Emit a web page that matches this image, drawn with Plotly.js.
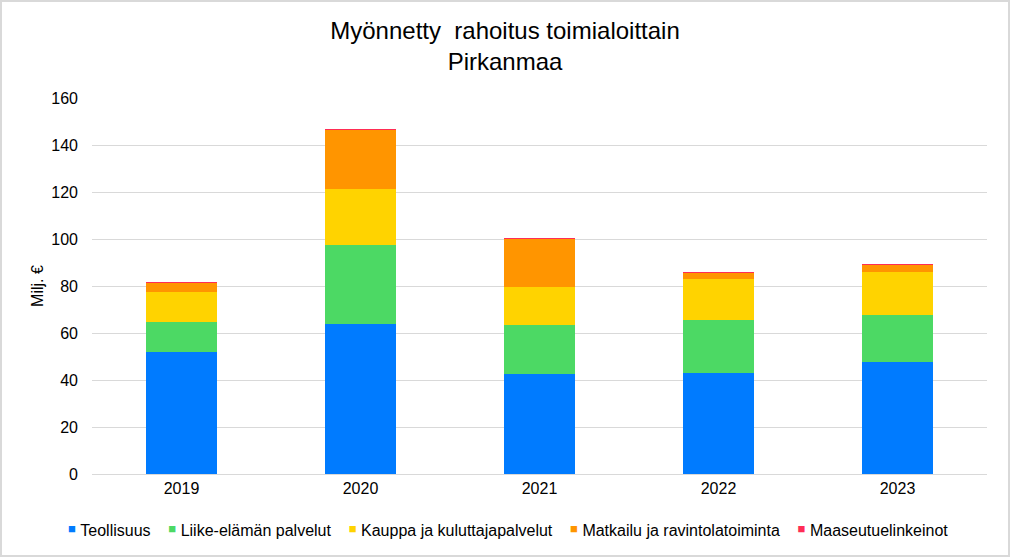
<!DOCTYPE html>
<html>
<head>
<meta charset="utf-8">
<script src="https://cdn.plot.ly/plotly-3.0.1.min.js"></script>
<style>
html,body{margin:0;padding:0;background:#fff;}
#wrap{position:relative;width:1010px;height:557px;}
#chart{width:1010px;height:557px;}
#frame{position:absolute;left:0;top:0;width:1010px;height:557px;box-sizing:border-box;border:2px solid #d9d9d9;pointer-events:none;}
</style>
</head>
<body>
<div id="wrap"><div id="chart"></div><div id="frame"></div></div>
<script>
var years = ["2019", "2020", "2021", "2022", "2023"];
var seriesNames = ["Teollisuus", "Liike-elämän palvelut", "Kauppa ja kuluttajapalvelut", "Matkailu ja ravintolatoiminta", "Maaseutuelinkeinot"];
var teollisuus = [51.9, 63.8, 42.6, 43.0, 47.7];
var liike = [12.8, 33.6, 20.9, 22.5, 20.0];
var kauppa = [12.9, 23.7, 16.2, 17.3, 18.3];
var matkailu = [3.5, 25.1, 20.3, 2.6, 2.8];
var maaseutu = [0.4, 0.5, 0.5, 0.6, 0.6];
var colors = ["#007BFF", "#4CD964", "#FFD300", "#FF9500", "#FF2D55"];
var yTicks = [0, 20, 40, 60, 80, 100, 120, 140, 160];

var FONT = "Liberation Sans, Arial, sans-serif";
var allValues = [teollisuus, liike, kauppa, matkailu, maaseutu];
var traces = allValues.map(function (vals, i) {
  return {
    type: "bar",
    name: seriesNames[i],
    x: years,
    y: vals,
    marker: {color: colors[i], line: {width: 0}},
    hoverinfo: "name+y",
    showlegend: false
  };
});

// legend drawn as one text line: coloured square + series name
var NB = "\u00a0";
var legendText = seriesNames.map(function (n, i) {
  return "<span style='color:" + colors[i] + ";font-size:13px;baseline-shift:3px'>\u25A0</span>" + NB + n;
}).join(NB + NB + NB + NB);

var layout = {
  width: 1010,
  height: 557,
  barmode: "stack",
  bargap: 0.6,
  paper_bgcolor: "#ffffff",
  plot_bgcolor: "#ffffff",
  font: {family: FONT, size: 16, color: "#000"},
  margin: {l: 92, r: 23, t: 98, b: 83},
  title: {
    text: "Myönnetty" + NB + NB + "rahoitus toimialoittain<br>Pirkanmaa",
    font: {family: FONT, size: 24, color: "#000"},
    x: 0.5, xanchor: "center",
    yref: "container",
    y: 0.93, yanchor: "top"
  },
  xaxis: {
    type: "category",
    showgrid: false,
    showline: true,
    linecolor: "#d9d9d9",
    linewidth: 1,
    ticks: "",
    tickfont: {size: 16},
    fixedrange: true
  },
  yaxis: {
    range: [0, 160],
    tickvals: yTicks,
    ticktext: yTicks.map(String),
    showgrid: true,
    gridcolor: "#d9d9d9",
    gridwidth: 1,
    zeroline: false,
    showline: false,
    ticks: "",
    ticklabelstandoff: 13,
    tickfont: {size: 16},
    title: {text: "Milj. €", font: {size: 16}, standoff: 3},
    fixedrange: true
  },
  annotations: [{
    xref: "paper", yref: "paper",
    x: 0.465, y: -0.149,
    xanchor: "center", yanchor: "middle",
    showarrow: false,
    text: legendText,
    font: {family: FONT, size: 16, color: "#000"}
  }],
  showlegend: false
};

Plotly.newPlot("chart", traces, layout, {displayModeBar: false, staticPlot: true});
</script>
</body>
</html>
